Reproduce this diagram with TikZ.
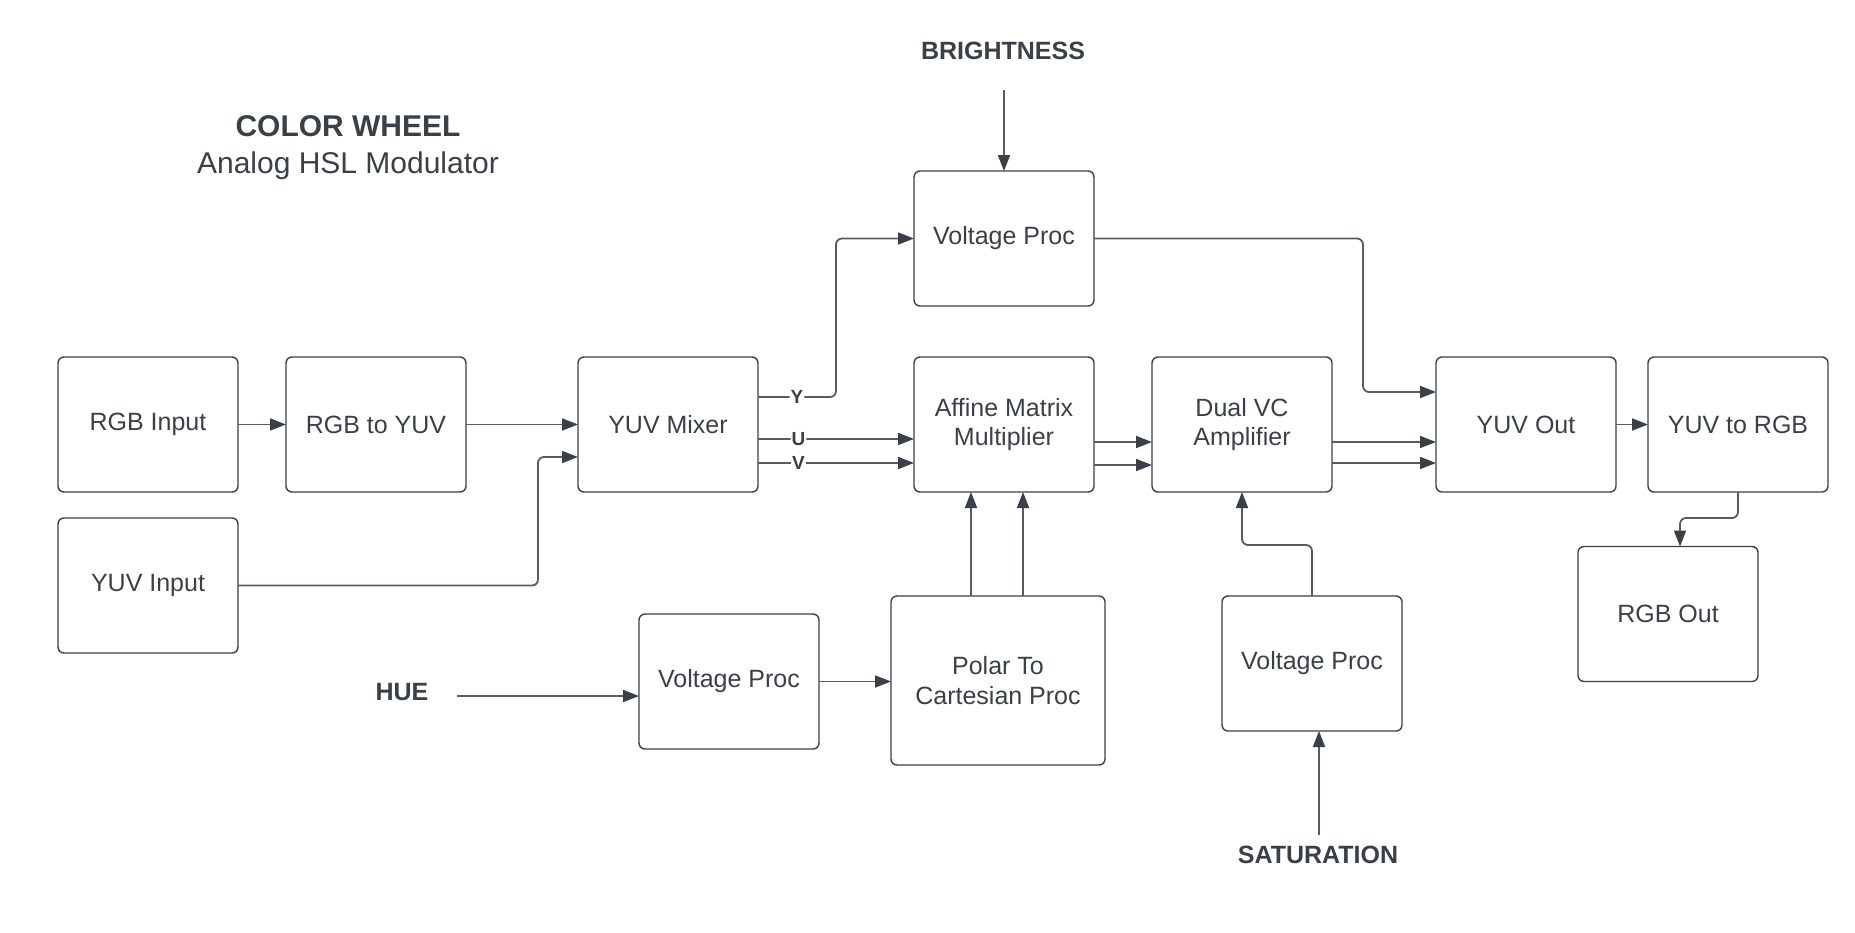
\documentclass[tikz,border=0pt]{standalone}
\usepackage{fontspec}
\setmainfont{Liberation Sans}
\usepackage{tikz}
\usetikzlibrary{arrows.meta,positioning}
\definecolor{inkgray}{HTML}{3A4048}
\definecolor{wiregray}{HTML}{575B62}

\begin{document}
\begin{tikzpicture}[x=1pt, y=-1pt]
    \tikzstyle{block} = [rectangle, draw=inkgray, line width=1.4pt, rounded corners=6pt,
        outer sep=0pt, minimum width=180pt, minimum height=135pt, align=center, text=inkgray,
        font=\fontsize{25}{29.5}\selectfont]
    \tikzstyle{wire} = [draw=wiregray, line width=1.8pt, rounded corners=6pt,
        -{Triangle[length=16pt, width=12pt, color=inkgray]}]
    \tikzstyle{tag} = [fill=white, inner sep=1pt, text=inkgray,
        font=\bfseries\fontsize{19}{22}\selectfont]
    \tikzstyle{ctrl} = [text=inkgray, font=\bfseries\fontsize{25}{29}\selectfont]
    \useasboundingbox (0,0) rectangle (1855,932);

    % title
    \node (title) [text=inkgray, font=\bfseries\fontsize{30}{34}\selectfont] at (348,126) {COLOR WHEEL};
    \node (subtitle) [text=inkgray, font=\fontsize{30}{34}\selectfont] at (348,166) {Analog HSL Modulator};

    % main row
    \node (rgbin) [block] at (148,424.5) {RGB Input};
    \node (rgbyuv) [block, right=48pt of rgbin] {RGB to YUV};
    \node (yuvin) [block, below=26pt of rgbin] {YUV Input};
    \node (mixer) [block, right=112pt of rgbyuv] {YUV Mixer};
    \node (affine) [block, right=156pt of mixer] {Affine Matrix\\Multiplier};
    \node (dualvc) [block, right=58pt of affine] {Dual VC\\Amplifier};
    \node (yuvout) [block, right=104pt of dualvc] {YUV Out};
    \node (yuvrgb) [block, right=32pt of yuvout] {YUV to RGB};
    \node (rgbout) [block] at (1668,614) {RGB Out};

    % control blocks
    \node (brightvp) [block, above=51pt of affine] {Voltage Proc};
    \node (huevp) [block] at (729,681.5) {Voltage Proc};
    \node (polar) [block, minimum width=214pt, minimum height=169pt] at (998,680.5) {Polar To\\Cartesian Proc};
    \node (satvp) [block] at (1312,663.5) {Voltage Proc};

    % control inputs
    \node (bright) [ctrl] at (1003,51) {BRIGHTNESS};
    \node (hue) [ctrl] at (402,692) {HUE};
    \node (sat) [ctrl] at (1318,855) {SATURATION};
    \coordinate (brightin) at (brightvp.north |- 0,90);
    \coordinate (huein) at (457,696);
    \coordinate (satin) at (1319,835);

    % signal path
    \draw [wire] (rgbin) -- (rgbyuv);
    \draw [wire] (rgbyuv) -- (mixer);
    \draw [wire] (yuvin.east) -| ([xshift=-40pt, yshift=-32.5pt]mixer.west) -- ([yshift=-32.5pt]mixer.west);
    \draw [wire] ([yshift=27.5pt]mixer.east) -- node[tag] {Y} ++(78,0) |- (brightvp.west);
    \draw [wire] ([yshift=-14.5pt]mixer.east) -- node[tag, pos=0.26] {U} ([yshift=-14.5pt]affine.west);
    \draw [wire] ([yshift=-38.5pt]mixer.east) -- node[tag, pos=0.26] {V} ([yshift=-38.5pt]affine.west);
    \draw [wire] ([yshift=-17.5pt]affine.east) -- ([yshift=-17.5pt]dualvc.west);
    \draw [wire] ([yshift=-40.5pt]affine.east) -- ([yshift=-40.5pt]dualvc.west);
    \draw [wire] ([yshift=-17.5pt]dualvc.east) -- ([yshift=-17.5pt]yuvout.west);
    \draw [wire] ([yshift=-38.5pt]dualvc.east) -- ([yshift=-38.5pt]yuvout.west);
    \draw [wire] (brightvp.east) -- ++(269,0) |- ([yshift=32.5pt]yuvout.west);
    \draw [wire] (yuvout) -- (yuvrgb);
    \draw [wire] (yuvrgb.south) -- ++(0,26) -| ([xshift=12pt]rgbout.north);

    % controls
    \draw [wire] (brightin) -- (brightvp.north);
    \draw [wire] (huein) -- (huein -| huevp.west);
    \draw [wire] (huevp.east) -- (huevp.east -| polar.west);
    \draw [wire] ([xshift=-27pt]polar.north) -- ([xshift=-27pt]polar.north |- affine.south);
    \draw [wire] ([xshift=25pt]polar.north) -- ([xshift=25pt]polar.north |- affine.south);
    \draw [wire] (satin) -- (satin |- satvp.south);
    \draw [wire] (satvp.north) -- ++(0,-51) -| (dualvc.south);
\end{tikzpicture}
\end{document}
